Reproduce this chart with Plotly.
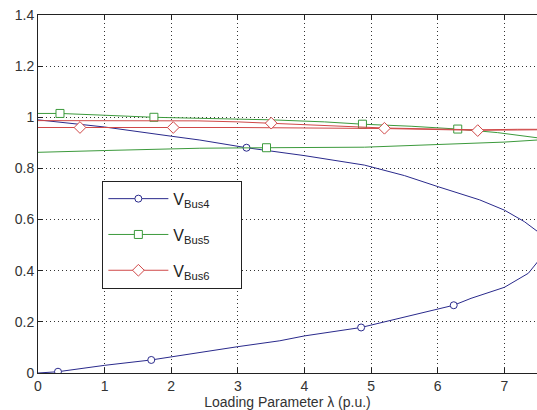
import plotly.graph_objects as go

# ---- data ----
bus4_x = [0, 1, 2, 2.43, 3.13, 4, 4.9, 5.5, 6, 6.63, 7, 7.3, 7.5, 7.6,
          7.5, 7.36, 7, 6.5, 6.24, 5.5, 4.85, 4, 3.63, 3, 2, 1.7, 1, 0.3, 0]
bus4_y = [0.99, 0.962, 0.926, 0.911, 0.881, 0.85, 0.813, 0.772, 0.729, 0.677, 0.637, 0.592, 0.553, 0.49,
          0.435, 0.39, 0.335, 0.292, 0.265, 0.22, 0.178, 0.145, 0.126, 0.103, 0.065, 0.051, 0.03, 0.005, 0]
bus4_mx = [0.3, 1.7, 3.13, 4.85, 6.24]
bus4_my = [0.005, 0.051, 0.881, 0.178, 0.265]

bus5_x = [0, 0.33, 1, 1.74, 2.43, 3.5, 4.3, 4.87, 5.6, 6.3, 6.9, 7.3, 7.49, 7.55,
          7.49, 7.0, 6.4, 5.6, 4.9, 3.43, 2.43, 1, 0]
bus5_y = [1.015, 1.015, 1.008, 1.0, 0.996, 0.99, 0.982, 0.973, 0.965, 0.954, 0.94, 0.928, 0.92, 0.915,
          0.911, 0.903, 0.897, 0.889, 0.883, 0.881, 0.879, 0.87, 0.863]
bus5_mx = [0.33, 1.74, 3.43, 4.87, 6.3]
bus5_my = [1.015, 1.0, 0.881, 0.973, 0.954]

bus6_x = [0, 1, 2.4, 3.0, 3.5, 4.2, 4.9, 5.2, 6.0, 6.6, 7.2, 7.49, 7.55,
          7.49, 6.6, 5.2, 4.5, 3, 2.03, 0.63, 0]
bus6_y = [0.987, 0.987, 0.986, 0.982, 0.977, 0.968, 0.962, 0.958, 0.954, 0.951, 0.953, 0.955, 0.953,
          0.951, 0.949, 0.956, 0.958, 0.96, 0.96, 0.96, 0.96]
bus6_mx = [0.63, 2.03, 3.5, 5.2, 6.6]
bus6_my = [0.96, 0.96, 0.977, 0.957, 0.948]

pad = "&nbsp;" * 6
names = ["V<sub>Bus4</sub>" + pad, "V<sub>Bus5</sub>" + pad, "V<sub>Bus6</sub>" + pad]
x_ticks = [0, 1, 2, 3, 4, 5, 6, 7]
y_ticks = [0, 0.2, 0.4, 0.6, 0.8, 1, 1.2, 1.4]

# ---- styles ----
colors = ["#2a2a8c", "#3c9a3c", "#d04848"]
symbols = ["circle", "square", "diamond"]
sizes = [7, 8, 9]

series = [(bus4_x, bus4_y, bus4_mx, bus4_my),
          (bus5_x, bus5_y, bus5_mx, bus5_my),
          (bus6_x, bus6_y, bus6_mx, bus6_my)]

fig = go.Figure()
for i, (cx, cy, mx, my) in enumerate(series):
    fig.add_trace(go.Scatter(x=cx, y=cy, mode="lines", line=dict(color=colors[i], width=1),
                             showlegend=False, hoverinfo="skip"))
    fig.add_trace(go.Scatter(x=mx, y=my, mode="markers", showlegend=False,
                             marker=dict(symbol=symbols[i], size=sizes[i], color="white",
                                         line=dict(color=colors[i], width=1))))
    fig.add_trace(go.Scatter(x=[None], y=[None], mode="lines+markers", name=names[i],
                             legendgroup=str(i),
                             line=dict(color=colors[i], width=1),
                             marker=dict(symbol=symbols[i], size=sizes[i], color="white",
                                         line=dict(color=colors[i], width=1))))

font = "Liberation Sans, Arial, sans-serif"
fig.update_layout(
    width=537, height=410,
    margin=dict(l=38, r=0, t=15, b=37),
    paper_bgcolor="white", plot_bgcolor="white",
    font=dict(family=font, size=14, color="#333333"),
    showlegend=True,
    legend=dict(x=0.129, y=0.537, xanchor="left", yanchor="top",
                bgcolor="white", bordercolor="#222222", borderwidth=1,
                font=dict(family=font, size=16, color="#222222"),
                tracegroupgap=12, itemwidth=60),
    xaxis=dict(range=[0, 7.49], tickvals=x_ticks, ticks="inside", ticklen=5,
               tickcolor="#222", showline=True, linecolor="#222", linewidth=1,
               mirror="ticks", showgrid=True, gridcolor="#333", griddash="1px,3px",
               gridwidth=1, zeroline=False,
               title=dict(text="Loading Parameter λ (p.u.)", standoff=4,
                          font=dict(family=font, size=14, color="#333333")),
               tickfont=dict(size=14)),
    yaxis=dict(range=[0, 1.4], tickvals=y_ticks, ticks="inside", ticklen=5,
               tickcolor="#222", showline=True, linecolor="#222", linewidth=1,
               mirror=False, showgrid=True, gridcolor="#333", griddash="1px,3px",
               gridwidth=1, zeroline=False, tickfont=dict(size=14)),
)

fig.write_html("out.html")
